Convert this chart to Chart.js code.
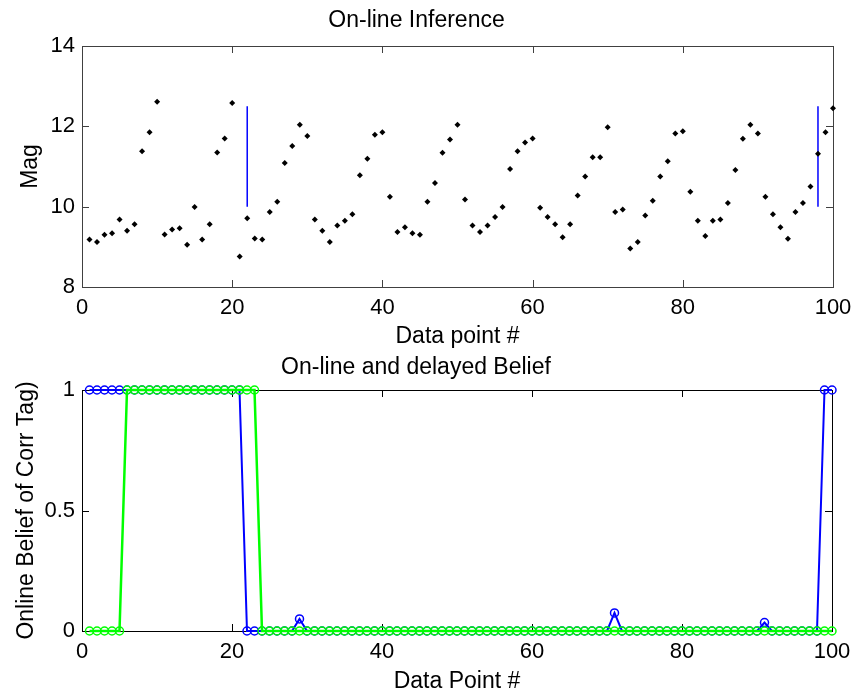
<!DOCTYPE html>
<html>
<head>
<meta charset="utf-8">
<script src="https://cdn.jsdelivr.net/npm/chart.js@4"></script>
<style>
  body { margin: 0; background: #fff; width: 854px; height: 689px; overflow: hidden; position: relative; }
  canvas { position: absolute; left: 0; }
  #topChart { top: 0; }
  #bottomChart { top: 345px; }
</style>
</head>
<body>
<canvas id="topChart" width="854" height="348"></canvas>
<canvas id="bottomChart" width="854" height="348"></canvas>
<script>
// magnitudes, data points 1..100
const mag = [
  9.18, 9.12, 9.30, 9.34, 9.68, 9.40, 9.56, 11.38, 11.85, 12.61,
  9.31, 9.43, 9.46, 9.05, 9.99, 9.18, 9.56, 11.35, 11.70, 12.58,
  8.76, 9.71, 9.21, 9.18, 9.87, 10.12, 11.09, 11.51, 12.04, 11.76,
  9.68, 9.40, 9.12, 9.53, 9.65, 9.81, 10.78, 11.19, 11.79, 11.85,
  10.25, 9.37, 9.49, 9.34, 9.30, 10.12, 10.59, 11.34, 11.67, 12.04,
  10.18, 9.53, 9.37, 9.53, 9.74, 9.99, 10.94, 11.38, 11.60, 11.70,
  9.97, 9.74, 9.56, 9.24, 9.56, 10.28, 10.75, 11.23, 11.23, 11.98,
  9.87, 9.93, 8.96, 9.12, 9.78, 10.15, 10.75, 11.13, 11.82, 11.88,
  10.37, 9.65, 9.27, 9.65, 9.68, 10.09, 10.91, 11.69, 12.04, 11.82,
  10.25, 9.81, 9.49, 9.20, 9.87, 10.09, 10.50, 11.32, 11.85, 12.45
];
// detected change points (blue bars)
const changeX = [22, 98];
const changeRange = [10, 12.5];

// on-line belief (blue)
const onlineBelief = [
  1, 1, 1, 1, 1, 1, 1, 1, 1, 1,
  1, 1, 1, 1, 1, 1, 1, 1, 1, 1,
  1, 0, 0, 0, 0, 0, 0, 0, 0.05, 0,
  0, 0, 0, 0, 0, 0, 0, 0, 0, 0,
  0, 0, 0, 0, 0, 0, 0, 0, 0, 0,
  0, 0, 0, 0, 0, 0, 0, 0, 0, 0,
  0, 0, 0, 0, 0, 0, 0, 0, 0, 0,
  0.075, 0, 0, 0, 0, 0, 0, 0, 0, 0,
  0, 0, 0, 0, 0, 0, 0, 0, 0, 0,
  0.035, 0, 0, 0, 0, 0, 0, 0, 1, 1
];
// delayed belief (green)
const delayedBelief = [
  0, 0, 0, 0, 0, 1, 1, 1, 1, 1,
  1, 1, 1, 1, 1, 1, 1, 1, 1, 1,
  1, 1, 1, 0, 0, 0, 0, 0, 0, 0,
  0, 0, 0, 0, 0, 0, 0, 0, 0, 0,
  0, 0, 0, 0, 0, 0, 0, 0, 0, 0,
  0, 0, 0, 0, 0, 0, 0, 0, 0, 0,
  0, 0, 0, 0, 0, 0, 0, 0, 0, 0,
  0, 0, 0, 0, 0, 0, 0, 0, 0, 0,
  0, 0, 0, 0, 0, 0, 0, 0, 0, 0,
  0, 0, 0, 0, 0, 0, 0, 0, 0, 0
];

const xTicks = [0, 20, 40, 60, 80, 100];

const FONT = '"Liberation Sans", Arial, Helvetica, sans-serif';
const pts = arr => arr.map((v, i) => ({ x: i + 1, y: v }));

// matlab style box with inward ticks
const boxTicks = {
  id: 'boxTicks',
  beforeDatasetsDraw(chart, args, opts) {
    const { ctx, chartArea: a, scales: { x, y } } = chart;
    const L = opts.len || 7;
    ctx.save();
    ctx.strokeStyle = opts.color || '#000';
    ctx.lineWidth = 1;
    ctx.strokeRect(Math.round(a.left) + 0.5, Math.round(a.top) + 0.5, Math.round(a.width), Math.round(a.height));
    ctx.beginPath();
    x.ticks.forEach(t => {
      const px = Math.round(x.getPixelForValue(t.value)) + 0.5;
      ctx.moveTo(px, a.bottom); ctx.lineTo(px, a.bottom - L);
      ctx.moveTo(px, a.top); ctx.lineTo(px, a.top + L);
    });
    y.ticks.forEach(t => {
      const py = Math.round(y.getPixelForValue(t.value)) + 0.5;
      ctx.moveTo(a.left, py); ctx.lineTo(a.left + L, py);
      ctx.moveTo(a.right, py); ctx.lineTo(a.right - L, py);
    });
    ctx.stroke();
    ctx.restore();
  }
};

function xAxis(title, h) {
  return {
    type: 'linear', min: 0, max: 100,
    afterBuildTicks: s => { s.ticks = xTicks.map(v => ({ value: v })); },
    ticks: { font: { family: FONT, size: 22 }, color: '#000', padding: 8, maxRotation: 0 },
    grid: { display: false, drawTicks: false },
    border: { display: false },
    title: { display: true, text: title, color: '#000', font: { family: FONT, size: 23, lineHeight: 1 }, padding: { top: 0, bottom: 0 } },
    afterFit: s => { s.height = h; s.paddingLeft = 0; s.paddingRight = 0; }
  };
}

function yAxis(min, max, step, title, pad) {
  return {
    min: min, max: max,
    ticks: { stepSize: step, font: { family: FONT, size: 22 }, color: '#000', padding: 7, callback: v => String(v) },
    grid: { display: false, drawTicks: false },
    border: { display: false },
    title: { display: true, text: title, color: '#000', font: { family: FONT, size: 23, lineHeight: 1 }, padding: { top: pad, bottom: 0 } },
    afterFit: s => { s.width = 82; }
  };
}

const topDatasets = [{
  data: pts(mag),
  showLine: false,
  pointStyle: 'rectRot',
  pointRadius: 3,
  pointBackgroundColor: '#000',
  pointBorderColor: '#000',
  pointBorderWidth: 0,
  clip: false
}];
changeX.forEach(cx => {
  topDatasets.push({
    data: [{ x: cx, y: changeRange[0] }, { x: cx, y: changeRange[1] }],
    showLine: true,
    borderColor: '#0000ff',
    borderWidth: 1.5,
    pointRadius: 0
  });
});

new Chart(document.getElementById('topChart'), {
  type: 'scatter',
  data: { datasets: topDatasets },
  options: {
    responsive: false,
    animation: false,
    layout: { padding: { left: 0, right: 21, top: 0, bottom: 0 } },
    scales: {
      x: xAxis('Data point #', 61),
      y: yAxis(8, 14, 2, 'Mag', 19.5)
    },
    plugins: {
      legend: { display: false },
      tooltip: { enabled: false },
      title: { display: true, text: 'On-line Inference', color: '#000', font: { family: FONT, size: 23, weight: 'normal' }, padding: { top: 6.5, bottom: 11.9 } },
      boxTicks: { color: '#404040', len: 7 }
    }
  },
  plugins: [boxTicks]
});

new Chart(document.getElementById('bottomChart'), {
  type: 'line',
  data: {
    datasets: [
      {
        label: 'delayed',
        data: pts(delayedBelief),
        borderColor: '#00ff00',
        borderWidth: 2.5,
        pointStyle: 'circle',
        pointRadius: 4,
        pointBorderWidth: 1.5,
        pointBackgroundColor: 'rgba(0,0,0,0)',
        pointBorderColor: '#00ff00',
        tension: 0,
        clip: false
      },
      {
        label: 'online',
        data: pts(onlineBelief),
        borderColor: '#0000ff',
        borderWidth: 2,
        pointStyle: 'circle',
        pointRadius: 4,
        pointBorderWidth: 1.5,
        pointBackgroundColor: 'rgba(0,0,0,0)',
        pointBorderColor: '#0000ff',
        tension: 0,
        clip: false
      }
    ]
  },
  options: {
    responsive: false,
    animation: false,
    layout: { padding: { left: 0, right: 22, top: 0, bottom: 0 } },
    scales: {
      x: xAxis('Data Point #', 62),
      y: yAxis(0, 1, 0.5, 'Online Belief of Corr Tag)', 15.5)
    },
    plugins: {
      legend: { display: false },
      tooltip: { enabled: false },
      title: { display: true, text: 'On-line and delayed Belief', color: '#000', font: { family: FONT, size: 23, weight: 'normal' }, padding: { top: 9, bottom: 8.4 } },
      boxTicks: { color: '#000', len: 7 }
    }
  },
  plugins: [boxTicks]
});
</script>
</body>
</html>
